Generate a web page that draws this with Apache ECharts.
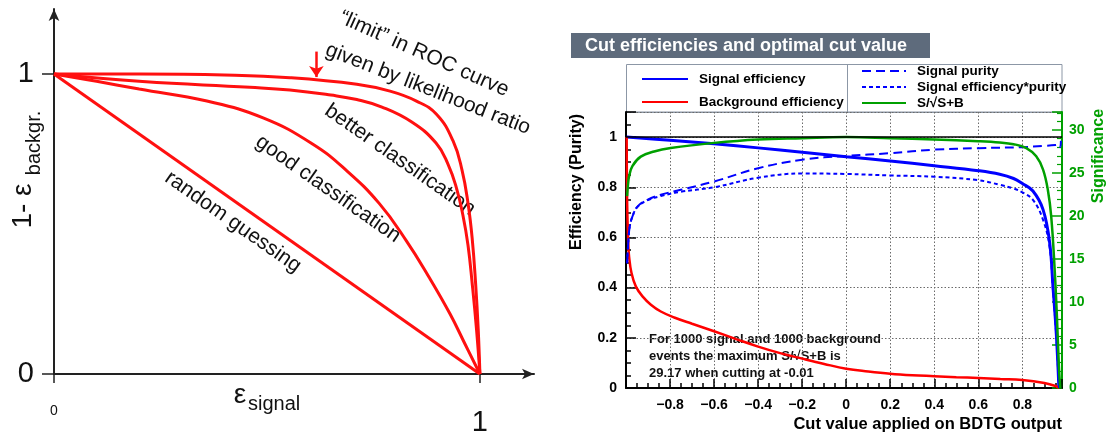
<!DOCTYPE html>
<html><head><meta charset="utf-8">
<script src="https://cdn.jsdelivr.net/npm/echarts@6/dist/echarts.min.js"></script>
<style>html,body{margin:0;padding:0;background:#fff}#c{width:1110px;height:439px}</style>
</head><body><div id="c"></div>
<script>
// ---------- Left panel: schematic ROC curves ----------
const rocRandomX = [0, 1];
const rocRandomY = [1, 0];
const rocGoodX = [0, 0.1, 0.2, 0.359, 0.491, 0.607, 0.687, 0.764, 0.827, 0.881, 0.93, 0.965, 1];
const rocGoodY = [1, 0.976, 0.95, 0.91, 0.854, 0.767, 0.678, 0.568, 0.445, 0.322, 0.2, 0.1, 0];
const rocBetterX = [0, 0.208, 0.46, 0.554, 0.65, 0.711, 0.77, 0.84, 0.897, 0.925, 0.945, 0.96, 0.972, 0.982, 0.992, 1];
const rocBetterY = [1, 0.975, 0.956, 0.947, 0.93, 0.915, 0.89, 0.84, 0.77, 0.7, 0.62, 0.53, 0.43, 0.3, 0.15, 0];
const rocLimitX = [0, 0.2, 0.4, 0.554, 0.711, 0.789, 0.851, 0.898, 0.937, 0.958, 0.972, 0.982, 0.99, 0.996, 1];
const rocLimitY = [1, 1.0, 0.997, 0.988, 0.966, 0.943, 0.91, 0.866, 0.777, 0.68, 0.57, 0.45, 0.3, 0.15, 0];
const rocTickValues = [0, 1];

// ---------- Right panel: TMVA cut efficiencies ----------
const xTickLabels = [-0.8, -0.6, -0.4, -0.2, 0, 0.2, 0.4, 0.6, 0.8];
const yTickLabels = [0, 0.2, 0.4, 0.6, 0.8, 1];
const sigTickLabels = [0, 5, 10, 15, 20, 25, 30];

const sigEffX = [-0.997, -0.8, -0.6, -0.4, -0.2, 0, 0.2, 0.4, 0.6, 0.697, 0.76, 0.8, 0.848, 0.894, 0.924, 0.939, 0.954, 0.966];
const sigEffY = [1.0, 0.987, 0.973, 0.957, 0.94, 0.922, 0.905, 0.886, 0.866, 0.852, 0.835, 0.815, 0.785, 0.711, 0.579, 0.404, 0.218, 0];

const bkgEffX = [-0.997, -0.995, -0.99, -0.986, -0.975, -0.955, -0.925, -0.887, -0.842, -0.781, -0.7, -0.6, -0.5, -0.4, -0.3, -0.2, -0.1, 0, 0.1, 0.2, 0.3, 0.4, 0.5, 0.6, 0.7, 0.8, 0.9, 0.95, 0.966];
const bkgEffY = [1.0, 0.75, 0.58, 0.524, 0.458, 0.404, 0.365, 0.332, 0.305, 0.281, 0.256, 0.226, 0.195, 0.165, 0.139, 0.117, 0.096, 0.077, 0.066, 0.057, 0.051, 0.047, 0.043, 0.04, 0.036, 0.032, 0.02, 0.008, 0];

const purityX = [-0.995, -0.989, -0.983, -0.971, -0.948, -0.903, -0.842, -0.751, -0.6, -0.4, -0.2, 0, 0.2, 0.4, 0.6, 0.8, 0.9, 0.95, 0.966, 0.972, 0.975];
const purityY = [0.497, 0.59, 0.643, 0.683, 0.723, 0.75, 0.77, 0.79, 0.823, 0.876, 0.91, 0.925, 0.936, 0.95, 0.956, 0.96, 0.965, 0.968, 0.97, 0.96, 0.985];

const effPurX = [-0.995, -0.989, -0.983, -0.971, -0.948, -0.903, -0.842, -0.751, -0.6, -0.4, -0.2, 0, 0.2, 0.4, 0.6, 0.697, 0.76, 0.8, 0.848, 0.894, 0.924, 0.939, 0.954, 0.966];
const effPurY = [0.497, 0.59, 0.643, 0.683, 0.722, 0.748, 0.765, 0.782, 0.8, 0.838, 0.855, 0.853, 0.847, 0.842, 0.828, 0.81, 0.795, 0.78, 0.75, 0.67, 0.56, 0.39, 0.21, 0];

const signifX = [-0.995, -0.99, -0.986, -0.971, -0.933, -0.872, -0.797, -0.6, -0.4, -0.2, 0, 0.2, 0.4, 0.6, 0.697, 0.76, 0.818, 0.863, 0.894, 0.916, 0.931, 0.946, 0.957, 0.966, 0.972];
const signifY = [22.3, 23.9, 24.6, 25.8, 26.9, 27.5, 27.9, 28.5, 28.9, 29.05, 29.17, 29.05, 28.9, 28.7, 28.55, 28.35, 27.9, 26.95, 25.4, 23.0, 19.95, 14.1, 8.3, 2.5, 0];

const annotationLines = [
  'For 1000 signal and 1000 background',
  'events the maximum S/\u221AS+B is',
  '29.17 when cutting at -0.01'
];

const zip = (xs, ys) => xs.map((x, i) => [x, ys[i]]);
const FONT = '"Liberation Sans", Arial, Helvetica, sans-serif';
const BLUE = '#0000ff', RED = '#ff0000', GREEN = '#00a000', ROCRED = '#ff1010';
const deg = d => d * Math.PI / 180;

const chart = echarts.init(document.getElementById('c'), null, {renderer: 'canvas'});

const rocLine = (name, xs, ys, extra) => Object.assign({
  name, type: 'line', xAxisIndex: 0, yAxisIndex: 0, data: zip(xs, ys),
  symbol: 'none', smooth: 0.45,
  lineStyle: {color: ROCRED, width: 3}, silent: true, z: 3
}, extra || {});

const rLine = (name, xs, ys, color, width, type, yIdx) => ({
  name, type: 'line', xAxisIndex: 1, yAxisIndex: yIdx, data: zip(xs, ys),
  symbol: 'none', smooth: 0.4,
  itemStyle: {color}, lineStyle: {color, width, type}, silent: true, z: 4
});

const txt = (x, y, text, font, fill, rot, align, valign) => ({
  type: 'text', x, y, rotation: rot || 0, silent: true,
  style: {text, font, fill: fill || '#111', textAlign: align || 'center', textVerticalAlign: valign || 'middle',
          align: align || 'center', verticalAlign: valign || 'middle'}
});

const fmtX = v => (v < 0 ? '\u2212' + Math.abs(v).toFixed(1) : (v === 0 ? '0' : v.toFixed(1)));
const fmtY = v => (v === 0 ? '0' : (v === 1 ? '1' : v.toFixed(1)));

const legendCommon = {
  orient: 'vertical', itemHeight: 14, selectedMode: false,
  itemStyle: {opacity: 0, color: 'rgba(0,0,0,0)', borderWidth: 0},
  textStyle: {fontSize: 13.5, fontWeight: 'bold', color: '#000', fontFamily: FONT, padding: [0, 0, 0, 6]}
};

const option = {
  animation: false,
  textStyle: {fontFamily: FONT},
  grid: [
    {left: 54, top: 9, width: 480, height: 365},
    {left: 626, top: 112, right: 48, bottom: 51, show: true, borderColor: '#8c97a6', borderWidth: 1, backgroundColor: 'transparent'}
  ],
  xAxis: [
    {
      gridIndex: 0, type: 'value', min: 0, max: 1.127,
      axisLine: {show: true, onZero: false, symbol: ['none', 'arrow'], symbolSize: [8, 12], lineStyle: {color: '#222', width: 2}},
      axisTick: {show: true, customValues: rocTickValues, length: 9, inside: false, lineStyle: {color: '#222', width: 1.5}},
      axisLabel: {
        show: true, customValues: rocTickValues, margin: 24, color: '#111',
        formatter: v => (v === 0 ? '{s|0}' : '{b|1}'),
        rich: {s: {fontSize: 14, padding: [6, 0, 0, 0], fontFamily: FONT, color: '#111'}, b: {fontSize: 29, padding: [10, 0, 0, 0], fontFamily: FONT, color: '#111'}}
      },
      splitLine: {show: false}
    },
    {
      gridIndex: 1, type: 'value', min: -1, max: 0.98, interval: 0.2,
      axisLine: {show: true, onZero: false, lineStyle: {color: '#000', width: 2}},
      axisTick: {show: true, inside: true, length: 9, lineStyle: {color: '#000', width: 1.5}},
      minorTick: {show: true, splitNumber: 4, length: 5, lineStyle: {color: '#000', width: 1.5}},
      axisLabel: {customValues: xTickLabels, formatter: fmtX, margin: 10, color: '#000', fontSize: 14, fontWeight: 'bold', fontFamily: FONT},
      splitLine: {show: true, lineStyle: {color: '#6a6a6a', type: [1.5, 2], width: 1}}
    }
  ],
  yAxis: [
    {
      gridIndex: 0, type: 'value', min: 0, max: 1.217,
      axisLine: {show: true, onZero: false, symbol: ['none', 'arrow'], symbolSize: [8, 12], lineStyle: {color: '#222', width: 2}},
      axisTick: {show: true, customValues: rocTickValues, length: 12, inside: false, lineStyle: {color: '#222', width: 1.5}},
      axisLabel: {show: true, customValues: rocTickValues, margin: 20, fontSize: 29, color: '#111', fontFamily: FONT,
                  formatter: v => String(v)},
      splitLine: {show: false}
    },
    {
      gridIndex: 1, type: 'value', min: 0, max: 1.1, interval: 0.2,
      axisLine: {show: true, onZero: false, lineStyle: {color: '#000', width: 2}},
      axisTick: {show: true, inside: true, length: 10, lineStyle: {color: '#000', width: 1.5}},
      minorTick: {show: true, splitNumber: 4, length: 5, lineStyle: {color: '#000', width: 1.5}},
      axisLabel: {customValues: yTickLabels, formatter: fmtY, margin: 9, color: '#000', fontSize: 14, fontWeight: 'bold', fontFamily: FONT},
      splitLine: {show: true, lineStyle: {color: '#6a6a6a', type: [1.5, 2], width: 1}}
    },
    {
      gridIndex: 1, type: 'value', position: 'right', min: 0, max: 32.09, interval: 5,
      axisLine: {show: true, onZero: false, lineStyle: {color: GREEN, width: 2}},
      axisTick: {show: true, inside: true, length: 10, lineStyle: {color: GREEN, width: 1.5}},
      minorTick: {show: true, splitNumber: 5, length: 5, lineStyle: {color: GREEN, width: 1.2}},
      axisLabel: {customValues: sigTickLabels, margin: 7, color: GREEN, fontSize: 14, fontWeight: 'bold', fontFamily: FONT},
      splitLine: {show: false}
    }
  ],
  legend: [
    Object.assign({}, legendCommon, {
      left: 636, top: 67, itemWidth: 46, itemGap: 9,
      data: ['Signal efficiency', 'Background efficiency']
    }),
    Object.assign({}, legendCommon, {
      left: 856, top: 59, itemWidth: 44, itemGap: 2,
      data: ['Signal purity', 'Signal efficiency*purity', 'S/\u221AS+B']
    })
  ],
  series: [
    rocLine('random guessing', rocRandomX, rocRandomY, {smooth: false}),
    rocLine('good classification', rocGoodX, rocGoodY),
    rocLine('better classification', rocBetterX, rocBetterY),
    rocLine('limit', rocLimitX, rocLimitY, {
      markLine: {
        silent: true, symbol: ['none', 'arrow'], symbolSize: 11,
        lineStyle: {color: ROCRED, width: 2.5, type: 'solid'}, label: {show: false},
        data: [[{coord: [0.616, 1.075]}, {coord: [0.616, 0.99]}]]
      }
    }),
    Object.assign(rLine('Signal efficiency', sigEffX, sigEffY, BLUE, 3, 'solid', 1), {
      markLine: {
        silent: true, symbol: ['none', 'none'], label: {show: false},
        lineStyle: {color: '#000', width: 1.5, type: 'solid'},
        data: [{yAxis: 1}]
      }
    }),
    rLine('Background efficiency', bkgEffX, bkgEffY, RED, 2.5, 'solid', 1),
    rLine('Signal purity', purityX, purityY, BLUE, 2, [9, 5], 1),
    rLine('Signal efficiency*purity', effPurX, effPurY, BLUE, 2, [4, 3], 1),
    rLine('S/\u221AS+B', signifX, signifY, GREEN, 2.5, 'solid', 2)
  ],
  graphic: [
    // left panel texts
    txt(23, 206, '1- \u03B5', '28px ' + FONT, '#111', deg(90)),
    txt(34, 143, 'backgr.', '20px ' + FONT, '#111', deg(90)),
    txt(240, 395, '\u03B5', '28px ' + FONT, '#111'),
    txt(248, 404, 'signal', '20px ' + FONT, '#111', 0, 'left'),
    txt(424, 54, '\u201Climit\u201D in ROC curve', '21px ' + FONT, '#111', -deg(24)),
    txt(428, 89, 'given by likelihood ratio', '21px ' + FONT, '#111', -deg(21.5)),
    txt(400, 160, 'better classification', '21px ' + FONT, '#111', -deg(35)),
    txt(328, 189, 'good classification', '21px ' + FONT, '#111', -deg(35)),
    txt(233, 222, 'random guessing', '21px ' + FONT, '#111', -deg(35)),
    // right panel: title box
    {type: 'rect', silent: true, shape: {x: 571, y: 33, width: 359, height: 25}, style: {fill: '#5e6b7c'}},
    txt(585, 46, 'Cut efficiencies and optimal cut value', 'bold 18px ' + FONT, '#ffffff', 0, 'left'),
    // legend box
    {type: 'rect', silent: true, shape: {x: 626.5, y: 64.5, width: 435.5, height: 48}, style: {fill: 'none', stroke: '#8c97a6', lineWidth: 1}},
    {type: 'line', silent: true, shape: {x1: 847.5, y1: 64.5, x2: 847.5, y2: 112.5}, style: {stroke: '#8c97a6', lineWidth: 1}},
    // axis titles
    txt(577, 182, 'Efficiency (Purity)', 'bold 16px ' + FONT, '#000', deg(90)),
    txt(1062, 424, 'Cut value applied on BDTG output', 'bold 16.5px ' + FONT, '#000', 0, 'right'),
    txt(1099, 156, 'Significance', 'bold 16px ' + FONT, GREEN, deg(90)),
    // annotation
    txt(649, 339, annotationLines[0], 'bold 13px ' + FONT, '#111', 0, 'left'),
    txt(649, 356, annotationLines[1], 'bold 13px ' + FONT, '#111', 0, 'left'),
    txt(649, 373, annotationLines[2], 'bold 13px ' + FONT, '#111', 0, 'left')
  ]
};
chart.setOption(option);
</script></body></html>
